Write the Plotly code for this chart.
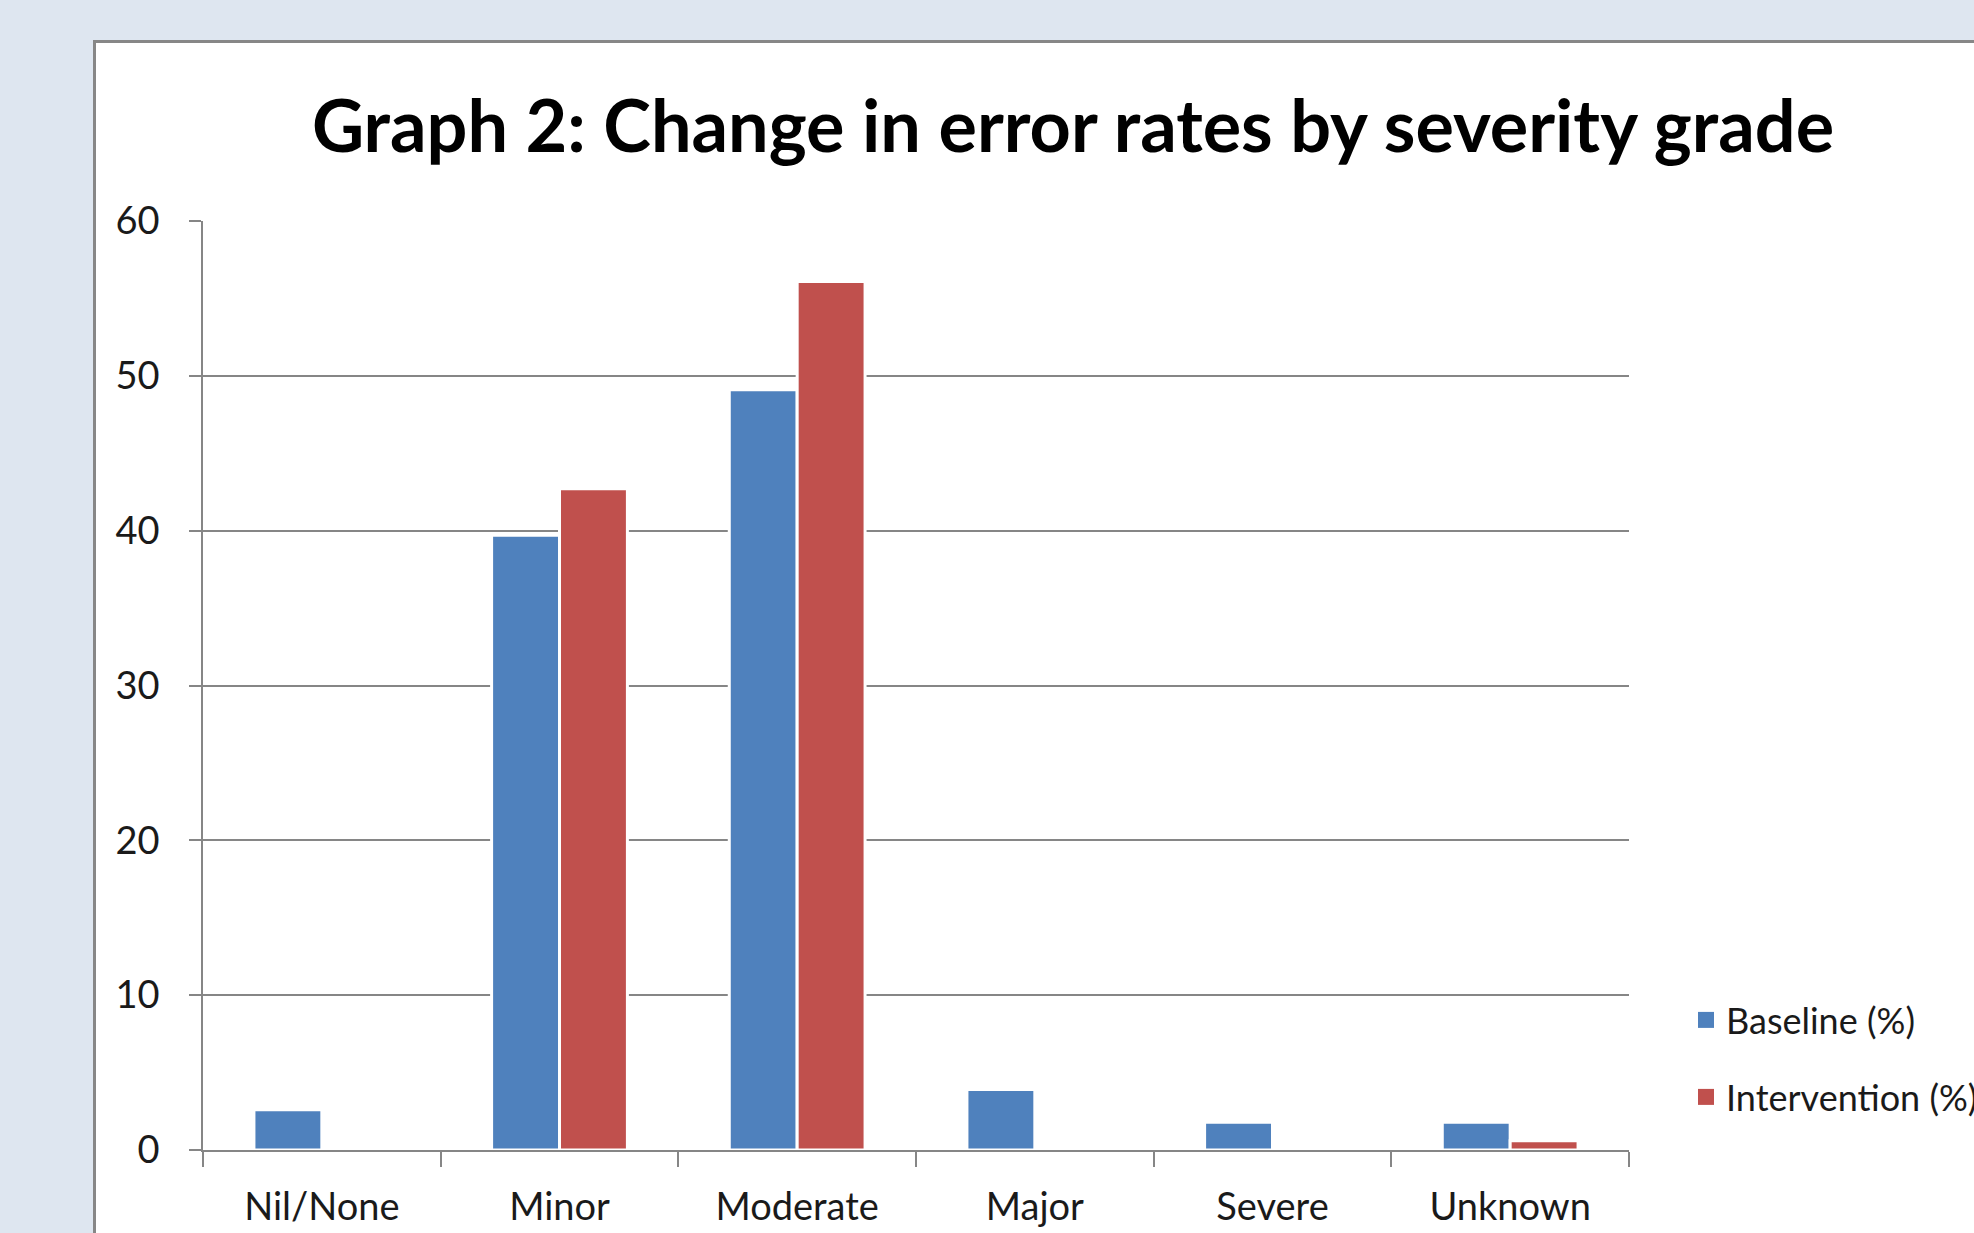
import plotly.graph_objects as go

categories = ["Nil/None", "Minor", "Moderate", "Major", "Severe", "Unknown"]
baseline = [2.6, 39.7, 49.1, 3.9, 1.8, 1.8]
intervention = [0, 42.7, 56.1, 0, 0, 0.6]
series_names = ["Baseline (%)", "Intervention (%)"]
series_colors = ["#4F81BD", "#C0504D"]
y_ticks = [0, 10, 20, 30, 40, 50, 60]
title_text = "Graph 2: Change in error rates by severity grade"

W, H = 1974, 1233
ML, MR, MT, MB = 203, 345, 221, 83
PW = W - ML - MR
PH = H - MT - MB

def px_x(p):
    return (p - ML) / PW

def px_y(p):
    return (H - MB - p) / PH

FONT = "Lato, Calibri, Carlito, sans-serif"
GRID = "#868686"

fig = go.Figure()
for vals, name, col in [(baseline, series_names[0], series_colors[0]),
                        (intervention, series_names[1], series_colors[1])]:
    fig.add_trace(go.Bar(x=categories, y=vals, name=name,
                         marker=dict(color=col, line=dict(color="white", width=3)),
                         showlegend=False))

# legend entries (square keys)
for name, col, lg in [(series_names[0], series_colors[0], "legend"),
                      (series_names[1], series_colors[1], "legend2")]:
    fig.add_trace(go.Scatter(x=[None], y=[None], mode="markers", name=name,
                             marker=dict(symbol="square", size=19, color=col),
                             legend=lg, showlegend=True))

fig.add_shape(type="rect", xref="paper", yref="paper",
              x0=px_x(94.5), x1=px_x(2200), y0=px_y(41.5), y1=px_y(1400),
              fillcolor="white", line=dict(color="#878787", width=3), layer="below")

fig.update_layout(
    width=W, height=H,
    showlegend=True,
    margin=dict(l=ML, r=MR, t=MT, b=MB, autoexpand=False),
    paper_bgcolor="#DEE6F0",
    plot_bgcolor="rgba(0,0,0,0)",
    barmode="group",
    bargap=0.4286,
    bargroupgap=0,
    title=dict(text="<b>" + title_text + "</b>", x=1073 / W, y=1 - 127 / H,
               xanchor="center", yanchor="middle",
               font=dict(family=FONT, size=72, color="black")),
    font=dict(family=FONT, color="#1a1a1a"),
    legend=dict(x=px_x(1686), y=px_y(1020), xanchor="left", yanchor="middle",
                itemsizing="trace",
                bgcolor="rgba(0,0,0,0)", font=dict(size=36, family=FONT)),
    legend2=dict(x=px_x(1686), y=px_y(1097), xanchor="left", yanchor="middle",
                 itemsizing="trace",
                 bgcolor="rgba(0,0,0,0)", font=dict(size=36, family=FONT)),
    xaxis=dict(showline=True, linecolor=GRID, linewidth=1.5,
               ticks="outside", tickson="boundaries", ticklen=15, tickcolor=GRID, tickwidth=1.5,
               tickfont=dict(size=38, family=FONT, color="#1a1a1a"),
               ticklabelstandoff=23, showgrid=False),
    yaxis=dict(range=[0, 60], tickvals=y_ticks, showline=True, linecolor=GRID, linewidth=1.5,
               ticks="outside", ticklen=12, tickcolor=GRID, tickwidth=1.5,
               showgrid=True, gridcolor=GRID, gridwidth=1.5, zeroline=False,
               tickfont=dict(size=38, family=FONT, color="#1a1a1a"),
               ticklabelstandoff=22),
)

fig.write_html("out.html", config={"displayModeBar": False},
               post_script="document.body.style.margin='0';document.body.style.padding='0';document.documentElement.style.overflow='hidden';")
